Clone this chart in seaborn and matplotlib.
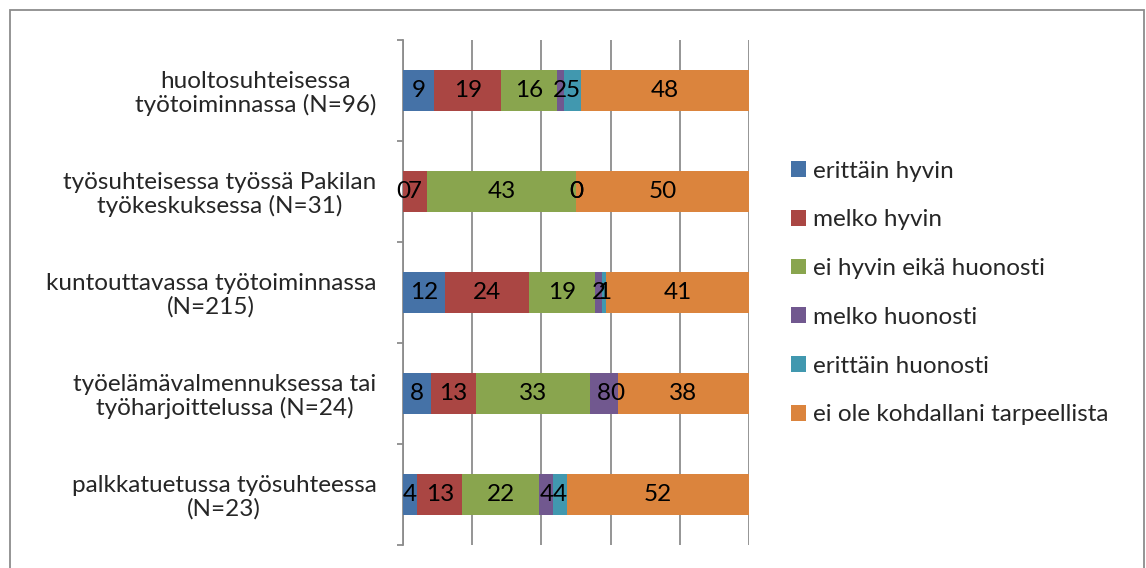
import pandas as pd
import matplotlib.pyplot as plt
import seaborn as sns
from matplotlib.patches import Patch, Rectangle

sns.set_theme(style="white")
plt.rcParams["font.family"] = ["Lato", "DejaVu Sans"]

# data
kategoriat = [
    "huoltosuhteisessa\ntyötoiminnassa (N=96)",
    "työsuhteisessa työssä Pakilan\ntyökeskuksessa (N=31)",
    "kuntouttavassa työtoiminnassa\n(N=215)",
    "työelämävalmennuksessa tai\ntyöharjoittelussa (N=24)",
    "palkkatuetussa työsuhteessa\n(N=23)",
]
sarjat = [
    "erittäin hyvin",
    "melko hyvin",
    "ei hyvin eikä huonosti",
    "melko huonosti",
    "erittäin huonosti",
    "ei ole kohdallani tarpeellista",
]
erittain_hyvin = [9, 0, 12, 8, 4]
melko_hyvin = [19, 7, 24, 13, 13]
ei_hyvin_eika_huonosti = [16, 43, 19, 33, 22]
melko_huonosti = [2, 0, 2, 8, 4]
erittain_huonosti = [5, 0, 1, 0, 4]
ei_tarpeellista = [48, 50, 41, 38, 52]

varit = ["#4572A7", "#AA4643", "#89A54E", "#71588F", "#4198AF", "#DB843D"]

arvot = [erittain_hyvin, melko_hyvin, ei_hyvin_eika_huonosti,
         melko_huonosti, erittain_huonosti, ei_tarpeellista]

df = pd.DataFrame(arvot, index=sarjat, columns=kategoriat).T
osuus = df.div(df.sum(axis=1), axis=0) * 100
kumul = osuus.cumsum(axis=1)

FS = 17.5

fig = plt.figure(figsize=(11.46, 5.68), dpi=100)
ax = fig.add_axes([403 / 1146, 23 / 568, 346 / 1146, 505 / 568])

# stacked bars: draw cumulative widths from the last series backwards
for k in reversed(range(len(sarjat))):
    d = pd.DataFrame({"kat": kategoriat, "leveys": kumul[sarjat[k]].values})
    sns.barplot(data=d, x="leveys", y="kat", order=kategoriat, orient="h",
                color=varit[k], saturation=1, width=0.4, errorbar=None,
                linewidth=0, ax=ax, zorder=3)

# data labels
for i, kat in enumerate(kategoriat):
    for k, s in enumerate(sarjat):
        keski = kumul.loc[kat, s] - osuus.loc[kat, s] / 2
        ax.text(keski, i, str(df.loc[kat, s]), ha="center", va="center",
                fontsize=FS, color="black", zorder=5)

ax.set_xlim(0, 100)
ax.set_ylim(4.5, -0.5)
ax.set_xticks(range(0, 101, 20))
ax.set_xticklabels([])
ax.tick_params(axis="x", length=0)
ax.grid(axis="x", color="#8c8c8c", linewidth=1.3, zorder=0)
ax.grid(axis="y", visible=False)
ax.set_xlabel("")
ax.set_ylabel("")

for side in ["top", "right", "bottom"]:
    ax.spines[side].set_visible(False)
ax.spines["left"].set_color("#8c8c8c")
ax.spines["left"].set_linewidth(1.3)

ax.set_yticks(range(len(kategoriat)))
ax.set_yticklabels(kategoriat, fontsize=FS, linespacing=1.1)
for t in ax.get_yticklabels():
    t.set_multialignment("center")
ax.tick_params(axis="y", which="major", length=0, pad=19)
ax.set_yticks([i - 0.5 for i in range(len(kategoriat) + 1)], minor=True)
ax.tick_params(axis="y", which="minor", length=4.5, width=1.3,
               color="#8c8c8c", direction="out", left=True)

kahvat = [Patch(facecolor=c, edgecolor="none") for c in varit]
fig.legend(kahvat, sarjat, loc="center left", bbox_to_anchor=(791 / 1146, 1 - 293 / 568),
           frameon=False, fontsize=FS, handlelength=0.62, handleheight=0.62,
           handletextpad=0.3, labelspacing=1.14, borderpad=0, borderaxespad=0)

fig.patches.append(Rectangle((10 / 1146, -0.02), 1134 / 1146, 558 / 568 + 0.02,
                             transform=fig.transFigure, fill=False,
                             edgecolor="#8c8c8c", linewidth=1.3))

fig.savefig("out.png", dpi=100)
